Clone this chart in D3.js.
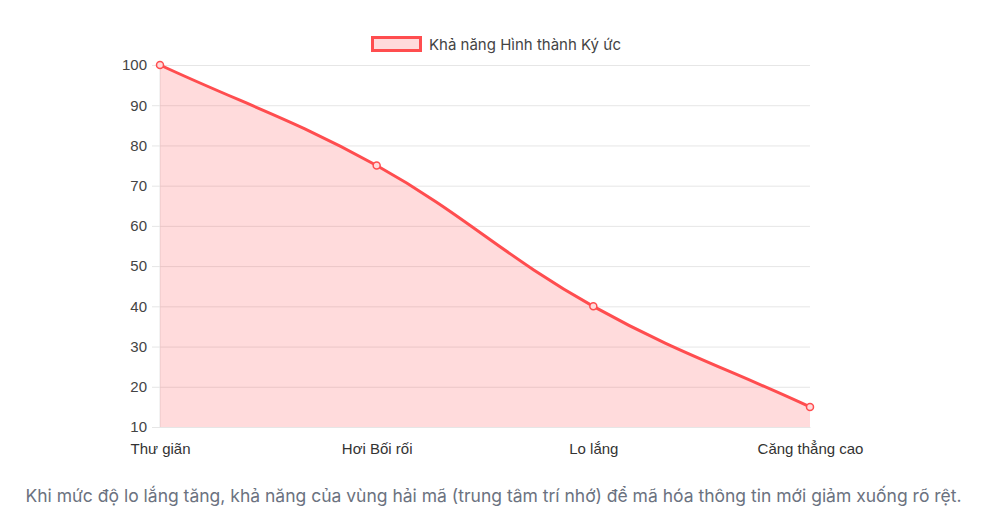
<!DOCTYPE html>
<html><head><meta charset="utf-8">
<script src="https://cdn.jsdelivr.net/npm/d3@7"></script>
<style>
html,body{margin:0;padding:0;background:#fff;}
svg{display:block;font-family:"Liberation Sans",Arial,Helvetica,sans-serif;}
</style></head>
<body>
<svg id="c" width="987" height="526"></svg>
<script>
const categories = ["Thư giãn", "Hơi Bối rối", "Lo lắng", "Căng thẳng cao"];
const memoryValues = [100, 75, 40, 15];
const yTicks = [10, 20, 30, 40, 50, 60, 70, 80, 90, 100];
const seriesLabel = "Khả năng Hình thành Ký ức";
const caption = "Khi mức độ lo lắng tăng, khả năng của vùng hải mã (trung tâm trí nhớ) để mã hóa thông tin mới giảm xuống rõ rệt.";

const svg = d3.select("#c");
const L = 160, R = 810, T = 65, B = 427;
const lineColor = "rgb(255,77,79)";
const fillColor = "rgba(255,77,79,0.2)";

const x = d3.scalePoint().domain(categories).range([L, R]);
const y = d3.scaleLinear().domain([10, 100]).range([B, T]);

// grid
const yAxis = svg.append("g").attr("transform", `translate(${L},0)`)
  .call(d3.axisLeft(y).tickValues(yTicks).tickSize(8).tickPadding(5).tickFormat(d3.format("d")));
yAxis.select(".domain").remove();
yAxis.selectAll(".tick line").attr("stroke", "#e6e6e6").attr("x2", R - L).attr("x1", -8);
yAxis.selectAll(".tick text").attr("fill", "#444").style("font-size", "15px")
  .style("font-family", "'Liberation Sans',Arial,sans-serif");

// left border
svg.append("line").attr("x1", L).attr("x2", L).attr("y1", T).attr("y2", B).attr("stroke", "#e6e6e6");

const xAxis = svg.append("g").attr("transform", `translate(0,${B})`)
  .call(d3.axisBottom(x).tickSize(0).tickPadding(16));
xAxis.select(".domain").attr("stroke", "#e6e6e6");
xAxis.selectAll(".tick text").attr("fill", "#333").style("font-size", "15px")
  .style("font-family", "'Liberation Sans',Arial,sans-serif");

// Chart.js-style spline (tension 0.4)
const pts = categories.map((c, i) => [x(c), y(memoryValues[i])]);
const t = 0.4;
function cps(p) {
  const out = [];
  for (let i = 0; i < p.length; i++) {
    const prev = p[Math.max(0, i - 1)], cur = p[i], next = p[Math.min(p.length - 1, i + 1)];
    const d01 = Math.hypot(cur[0] - prev[0], cur[1] - prev[1]);
    const d12 = Math.hypot(next[0] - cur[0], next[1] - cur[1]);
    let s01 = d01 / (d01 + d12), s12 = d12 / (d01 + d12);
    if (isNaN(s01)) s01 = 0; if (isNaN(s12)) s12 = 0;
    const fa = t * s01, fb = t * s12;
    out.push({
      prev: [cur[0] - fa * (next[0] - prev[0]), Math.min(B, Math.max(T, cur[1] - fa * (next[1] - prev[1])))],
      next: [cur[0] + fb * (next[0] - prev[0]), Math.min(B, Math.max(T, cur[1] + fb * (next[1] - prev[1])))]
    });
  }
  return out;
}
const cp = cps(pts);
function linePath(p) {
  const path = d3.path();
  path.moveTo(p[0][0], p[0][1]);
  for (let i = 1; i < p.length; i++) {
    path.bezierCurveTo(cp[i - 1].next[0], cp[i - 1].next[1], cp[i].prev[0], cp[i].prev[1], p[i][0], p[i][1]);
  }
  return path.toString();
}
const lp = linePath(pts);
svg.append("path").attr("d", lp + `L${pts[pts.length - 1][0]},${B}L${pts[0][0]},${B}Z`)
  .attr("fill", fillColor).attr("stroke", "none");
svg.append("path").attr("d", lp).attr("fill", "none").attr("stroke", lineColor).attr("stroke-width", 3);

svg.append("g").selectAll("circle").data(pts).join("circle")
  .attr("cx", d => d[0]).attr("cy", d => d[1]).attr("r", 3.5)
  .attr("fill", "#ffdbdc").attr("stroke", lineColor).attr("stroke-width", 1.5);

// legend
const lg = svg.append("g");
lg.append("text").attr("x", 429).attr("y", 50).text(seriesLabel)
  .attr("fill", "#444").style("font-size", "15px").style("font-family", "Inter, sans-serif");
lg.append("rect").attr("x", 372.5).attr("y", 37.5).attr("width", 48).attr("height", 13)
  .attr("fill", fillColor).attr("stroke", lineColor).attr("stroke-width", 3);

// caption
svg.append("text").attr("x", 493.5).attr("y", 502).attr("text-anchor", "middle")
  .attr("fill", "#6b7280").style("font-size", "17.5px").style("font-family", "Inter, sans-serif").text(caption);
</script>
</body></html>
